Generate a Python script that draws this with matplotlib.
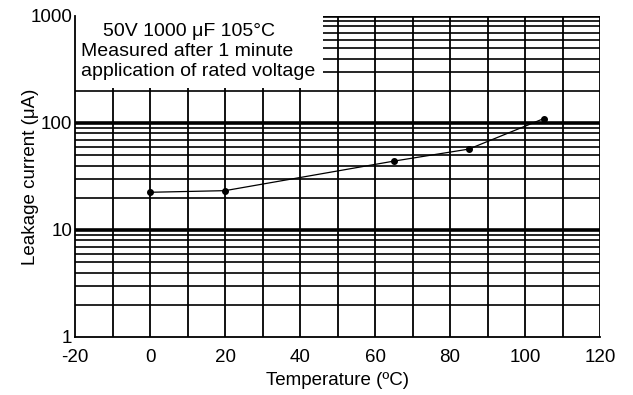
import matplotlib.pyplot as plt
import matplotlib.patches as patches
import numpy as np

plt.rcParams['font.family'] = ['Liberation Sans', 'DejaVu Sans']
plt.rcParams['axes.unicode_minus'] = False

# Data
temperature = [0, 20, 65, 85, 105]
leakage_ua = [22.5, 23.3, 44, 57, 110]

x_ticks = [-20, 0, 20, 40, 60, 80, 100, 120]
y_ticks = [1, 10, 100, 1000]
y_labels = ['1', '10', '100', '1000']

fig = plt.figure(figsize=(6.33, 3.95), dpi=100)
ax = fig.add_axes([0.1185, 0.147, 0.8295, 0.8125])
ax.set_yscale('log')
ax.set_xlim(-20, 120)
ax.set_ylim(1, 1000)

# grid: vertical every 10 deg, horizontal at every 1..9 per decade
for xv in np.arange(-10, 121, 10):
    ax.axvline(xv, color='black', lw=1.3, zorder=1)
for dec in [1, 10, 100]:
    for m in range(2, 10):
        ax.axhline(dec * m, color='black', lw=1.2, zorder=1)
for yv in [10, 100]:
    ax.axhline(yv, color='black', lw=2.6, zorder=1)
ax.axhline(1000, color='black', lw=2.6, zorder=1)

# white box behind the annotation
ax.add_patch(patches.Rectangle((0, 0.775), 0.473, 0.23, transform=ax.transAxes,
                               facecolor='white', edgecolor='none', zorder=2,
                               clip_on=False))

ax.plot(temperature, leakage_ua, color='black', lw=0.9, marker='o', ms=4, zorder=3)

ax.text(0.217, 0.953, '50V 1000 \u03bcF 105\u00b0C', transform=ax.transAxes,
        ha='center', va='center', fontsize=14, zorder=4)
ax.text(0.012, 0.888, 'Measured after 1 minute', transform=ax.transAxes,
        ha='left', va='center', fontsize=14, zorder=4)
ax.text(0.012, 0.826, 'application of rated voltage', transform=ax.transAxes,
        ha='left', va='center', fontsize=14, zorder=4)

for side in ['top', 'right']:
    ax.spines[side].set_visible(False)
ax.spines['left'].set_linewidth(1.3)
ax.spines['bottom'].set_linewidth(1.3)
ax.spines['left'].set_zorder(5)

ax.set_xticks(x_ticks)
ax.set_yticks(y_ticks)
ax.set_yticklabels(y_labels)
ax.minorticks_off()
ax.tick_params(length=0, labelsize=13.5)
ax.tick_params(axis='x', pad=9)
ax.tick_params(axis='y', pad=2)

ax.set_xlabel('Temperature (\u00baC)', fontsize=13.5, labelpad=4)
ax.set_ylabel('Leakage current (\u03bcA)', fontsize=13.5, labelpad=-6)

fig.savefig('out.png', dpi=100)
